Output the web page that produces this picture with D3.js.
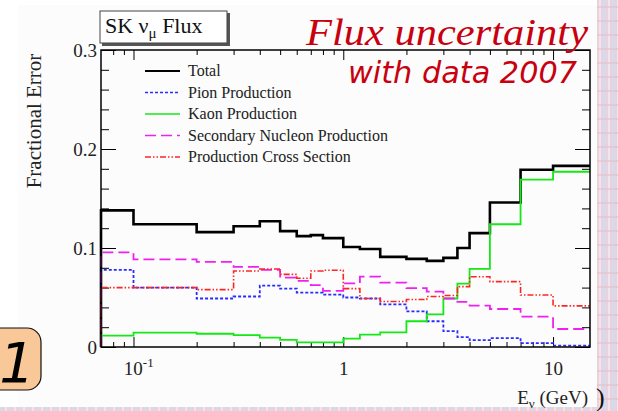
<!DOCTYPE html>
<html>
<head>
<meta charset="utf-8">
<script src="https://cdn.jsdelivr.net/npm/d3@7"></script>
<style>
  body { margin: 0; background: #fff; }
  svg { display: block; }
  .axis path { display: none; }
  .axis line { stroke: #000; stroke-width: 1; }
  .axis text { font-family: "Liberation Serif", serif; font-size: 19px; fill: #222; }
</style>
</head>
<body>
<script>
// bin edges (GeV) and fractional errors per bin
var edges = [0.07, 0.1, 0.2, 0.3, 0.4, 0.5, 0.6, 0.7, 0.8, 1.0, 1.2, 1.5, 2.0, 2.5, 3.0, 3.5, 4.0, 5.0, 7.0, 10, 15];
var total = [0.138, 0.124, 0.116, 0.122, 0.127, 0.117, 0.112, 0.113, 0.110, 0.101, 0.099, 0.091, 0.089, 0.087, 0.090, 0.100, 0.115, 0.146, 0.179, 0.183];
var pion = [0.078, 0.060, 0.049, 0.051, 0.062, 0.059, 0.055, 0.055, 0.053, 0.050, 0.049, 0.043, 0.036, 0.026, 0.016, 0.010, 0.007, 0.009, 0.004, 0.0013];
var kaon = [0.0115, 0.0145, 0.0134, 0.012, 0.0094, 0.0071, 0.0047, 0.0047, 0.0047, 0.0085, 0.0125, 0.0148, 0.026, 0.033, 0.049, 0.064, 0.079, 0.124, 0.169, 0.177];
var secondary = [0.0956, 0.0886, 0.086, 0.081, 0.078, 0.070, 0.0667, 0.0626, 0.0566, 0.0643, 0.071, 0.065, 0.0595, 0.056, 0.049, 0.0455, 0.0418, 0.0384, 0.0306, 0.0182];
var crossSection = [0.060, 0.060, 0.058, 0.0768, 0.0788, 0.0734, 0.0694, 0.0768, 0.0775, 0.059, 0.049, 0.046, 0.048, 0.051, 0.052, 0.061, 0.071, 0.066, 0.0525, 0.0415];

var seriesNames = ["Total", "Pion Production", "Kaon Production", "Secondary Nucleon Production", "Production Cross Section"];
var xMajor = [0.1, 1, 10];
var xMajorLabels = ["10|-1", "1", "10"];
var yMajor = [0, 0.1, 0.2, 0.3];
var yMajorLabels = ["0", "0.1", "0.2", "0.3"];

var W = 618, H = 411;
var frame = {left: 101, right: 590, top: 50, bottom: 347};

var svg = d3.select('body').append('svg')
	.attr('width', W)
	.attr('height', H);

// slide background texture on the right / bottom
var defs = svg.append('defs');
var pat = defs.append('pattern')
	.attr('id', 'bg')
	.attr('patternUnits', 'userSpaceOnUse')
	.attr('width', 9).attr('height', 14);
pat.append('rect').attr('width', 9).attr('height', 14).attr('fill', '#ead2dc');
pat.append('rect').attr('x', 0).attr('width', 3).attr('height', 14).attr('fill', '#d3dbee');
pat.append('rect').attr('x', 5).attr('width', 2).attr('height', 14).attr('fill', '#f3e3ea');
pat.append('rect').attr('x', 0).attr('y', 6).attr('width', 9).attr('height', 2).attr('fill', '#e2c0cc').attr('opacity', 0.6);

svg.append('rect').attr('x', 597).attr('y', 0).attr('width', W - 597).attr('height', H).attr('fill', 'url(#bg)');
svg.append('rect').attr('x', 0).attr('y', 407).attr('width', W).attr('height', H - 407).attr('fill', 'url(#bg)');
svg.append('rect').attr('x', 18).attr('y', 5).attr('width', 579).attr('height', 402).attr('fill', '#fbfcfb');

// scales
var xScale = d3.scaleLog()
	.domain([edges[0], edges[edges.length - 1]])
	.range([frame.left, frame.right]);

var yScale = d3.scaleLinear()
	.domain([0, 0.3])
	.range([frame.bottom, frame.top]);

// minor tick positions
var xMinor = [];
[0.01, 0.1, 1, 10].forEach(function(dec){
	for (var k = 2; k <= 9; k++) {
		var v = dec * k;
		if (v > edges[0] && v < edges[edges.length - 1]) xMinor.push(v);
	}
});
var yMinor = d3.range(0, 0.3001, 0.02);

// axes (ticks pointing into the frame)
svg.append('g').attr('class', 'axis')
	.attr('transform', 'translate(0,' + frame.bottom + ')')
	.call(d3.axisBottom(xScale).tickValues(xMinor).tickSize(-5).tickFormat(''));
var xAx = svg.append('g').attr('class', 'axis x')
	.attr('transform', 'translate(0,' + frame.bottom + ')')
	.call(d3.axisBottom(xScale).tickValues(xMajor).tickSize(-10));
xAx.selectAll('text')
	.attr('y', 28).attr('dy', null)
	.each(function(d, i){
		var parts = xMajorLabels[i].split('|');
		var t = d3.select(this).text(parts[0]);
		if (parts[1]) {
			t.attr('dx', '0.25em');
			t.append('tspan').attr('dy', -8).style('font-size', '13px').text(parts[1]);
		}
	});

svg.append('g').attr('class', 'axis')
	.attr('transform', 'translate(0,' + frame.top + ')')
	.call(d3.axisTop(xScale).tickValues(xMinor).tickSize(-5).tickFormat(''));
svg.append('g').attr('class', 'axis')
	.attr('transform', 'translate(0,' + frame.top + ')')
	.call(d3.axisTop(xScale).tickValues(xMajor).tickSize(-10).tickFormat(''));

svg.append('g').attr('class', 'axis')
	.attr('transform', 'translate(' + frame.left + ',0)')
	.call(d3.axisLeft(yScale).tickValues(yMinor).tickSize(-8).tickFormat(''));
svg.append('g').attr('class', 'axis y')
	.attr('transform', 'translate(' + frame.left + ',0)')
	.call(d3.axisLeft(yScale).tickValues(yMajor).tickSize(-15).tickPadding(4)
		.tickFormat(function(d, i){ return yMajorLabels[i]; }))
	.selectAll('text').attr('dy', '0.32em');

svg.append('g').attr('class', 'axis')
	.attr('transform', 'translate(' + frame.right + ',0)')
	.call(d3.axisRight(yScale).tickValues(yMinor).tickSize(-8).tickFormat(''));
svg.append('g').attr('class', 'axis')
	.attr('transform', 'translate(' + frame.right + ',0)')
	.call(d3.axisRight(yScale).tickValues(yMajor).tickSize(-15).tickFormat(''));

// histograms
var styles = [
	{data: total, color: '#000', width: 2.6, dash: null},
	{data: pion, color: '#2b2bff', width: 1.8, dash: '3,2'},
	{data: kaon, color: '#16e816', width: 1.8, dash: null},
	{data: secondary, color: '#f020f0', width: 1.8, dash: '11,5'},
	{data: crossSection, color: '#ff2424', width: 1.6, dash: '6,2,1.5,2,1.5,2'}
];

var line = d3.line()
	.x(function(d){ return xScale(d[0]); })
	.y(function(d){ return yScale(d[1]); });

function steps(vals){
	var pts = [[edges[0], 0]];
	vals.forEach(function(v, i){
		pts.push([edges[i], v]);
		pts.push([edges[i + 1], v]);
	});
	return pts;
}

styles.forEach(function(s){
	svg.append('path')
		.attr('d', line(steps(s.data)))
		.attr('fill', 'none')
		.attr('stroke', s.color)
		.attr('stroke-width', s.width)
		.attr('stroke-dasharray', s.dash);
});

// frame
svg.append('rect')
	.attr('x', frame.left).attr('y', frame.top)
	.attr('width', frame.right - frame.left)
	.attr('height', frame.bottom - frame.top)
	.attr('fill', 'none').attr('stroke', '#000').attr('stroke-width', 1.5);

// legend
var legend = svg.selectAll('.legend')
	.data(seriesNames)
	.enter().append('g')
	.attr('class', 'legend')
	.attr('transform', function(d, i){ return 'translate(145,' + (71 + i * 21.5) + ')'; });

legend.append('line')
	.attr('x1', 0).attr('x2', 35)
	.attr('stroke', function(d, i){ return styles[i].color; })
	.attr('stroke-width', function(d, i){ return i === 0 ? 2.2 : 1.6; })
	.attr('stroke-dasharray', function(d, i){ return styles[i].dash; });

legend.append('text')
	.attr('x', 43).attr('y', 5)
	.style('font-family', '"Liberation Serif", serif')
	.style('font-size', '16px')
	.attr('fill', '#222')
	.text(function(d){ return d; });

// y label
svg.append('text')
	.attr('transform', 'translate(41,121) rotate(-90)')
	.attr('text-anchor', 'middle')
	.style('font-family', '"Liberation Serif", serif')
	.style('font-size', '21px')
	.attr('fill', '#222')
	.text('Fractional Error');

// x label
var xl = svg.append('text')
	.attr('x', 588).attr('y', 404)
	.attr('text-anchor', 'end')
	.style('font-family', '"Liberation Serif", serif')
	.style('font-size', '19px')
	.attr('fill', '#222');
xl.append('tspan').text('E');
xl.append('tspan').attr('dy', 4).style('font-size', '13px').text('ν');
xl.append('tspan').attr('dy', -4).text(' (GeV)');

// title box
svg.append('rect').attr('x', 102).attr('y', 13).attr('width', 128).attr('height', 33).attr('fill', '#555');
svg.append('rect').attr('x', 100).attr('y', 11).attr('width', 127).attr('height', 32)
	.attr('fill', '#fff').attr('stroke', '#444').attr('stroke-width', 1);
var tt = svg.append('text')
	.attr('x', 105).attr('y', 33)
	.style('font-family', '"Liberation Serif", serif')
	.style('font-size', '22px')
	.attr('fill', '#111');
tt.append('tspan').text('SK ν');
tt.append('tspan').attr('dy', 5).style('font-size', '15px').text('μ');
tt.append('tspan').attr('dy', -5).text(' Flux');

// overlay texts from the slide
svg.append('text')
	.attr('x', 306).attr('y', 45)
	.attr('textLength', 282).attr('lengthAdjust', 'spacingAndGlyphs')
	.style('font-family', '"Liberation Serif", serif')
	.style('font-style', 'italic')
	.style('font-size', '38px')
	.attr('fill', '#c8000f')
	.text('Flux uncertainty');

svg.append('text')
	.attr('x', 348).attr('y', 83)
	.attr('textLength', 229).attr('lengthAdjust', 'spacingAndGlyphs')
	.style('font-family', '"DejaVu Sans", sans-serif')
	.style('font-style', 'italic')
	.style('font-size', '30px')
	.attr('fill', '#c8000f')
	.text('with data 2007');

// slide number badge
svg.append('rect')
	.attr('x', -15).attr('y', 328).attr('width', 56).attr('height', 62).attr('rx', 14)
	.attr('fill', '#f9c898').attr('stroke', '#111').attr('stroke-width', 1.2);
svg.append('text')
	.attr('x', 17).attr('y', 382)
	.attr('text-anchor', 'middle')
	.style('font-family', '"DejaVu Sans", sans-serif')
	.style('font-style', 'italic')
	.style('font-size', '56px')
	.attr('fill', '#000')
	.text('1');

svg.append('text')
	.attr('x', 596).attr('y', 406)
	.style('font-family', '"Liberation Serif", serif')
	.style('font-size', '26px')
	.attr('fill', '#111')
	.text(')');
</script>
</body>
</html>
